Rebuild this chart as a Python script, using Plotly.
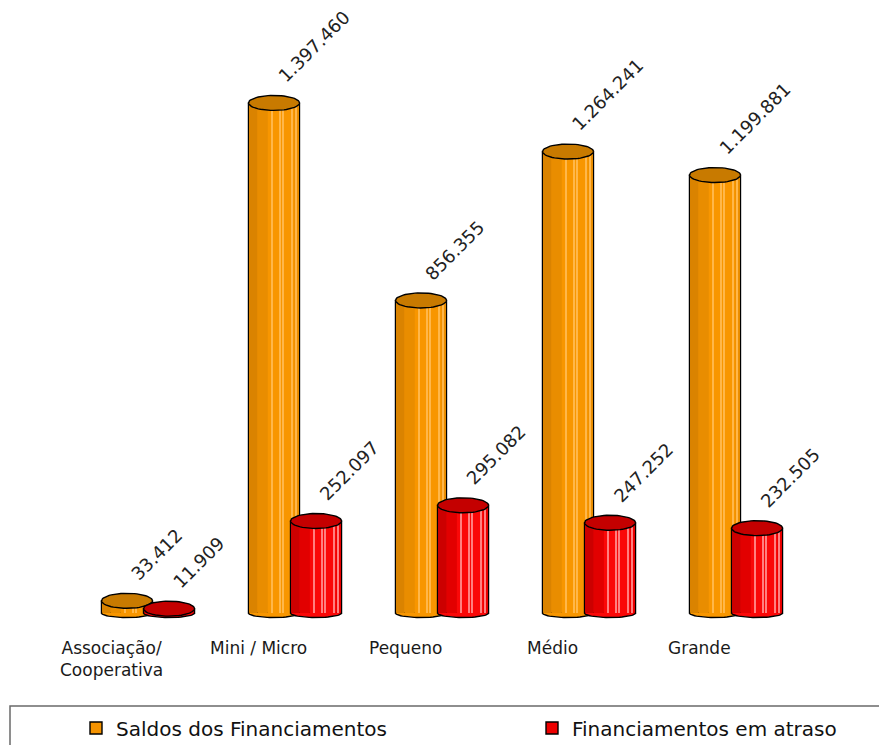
import numpy as np
import plotly.graph_objects as go

# ---------------- data ----------------
categories = ["Associação/<br>Cooperativa", "Mini / Micro", "Pequeno", "Médio", "Grande"]
saldos = [33412, 1397460, 856355, 1264241, 1199881]
atraso = [11909, 252097, 295082, 247252, 232505]
series_names = ["Saldos dos Financiamentos", "Financiamentos em atraso"]

# ---------------- layout constants (page has an 8px body margin) ----------------
OFF = 8
W, H = 887 - OFF, 745 - OFF
PX_PER_UNIT = 3.65e-4
TOP_PX, BASE_PX, BOTTOM_PX = 10 - OFF, 613 - OFF, 625 - OFF
y_range = [-(BOTTOM_PX - BASE_PX) / PX_PER_UNIT, (BASE_PX - TOP_PX) / PX_PER_UNIT]
CAT_PX0, CAT_STEP = 148 - OFF, 147
x_range = [-CAT_PX0 / CAT_STEP, (W - CAT_PX0) / CAT_STEP]
plot_h = BOTTOM_PX - TOP_PX

BAR_W = 0.347
SHIFT = 0.143
CAP_H = 7.5 / PX_PER_UNIT
BASE_H = 4.5 / PX_PER_UNIT
FONT = "DejaVu Sans"

styles = [
    dict(base="#F59300", cap="#C87A00",
         bands=[(0.0, 0.18, "#DA8300"), (0.18, 0.38, "#E98D00"), (0.38, 0.90, "#F89600"), (0.90, 1.0, "#EC8E00")],
         hl="#FFB74A", hl_pos=[0.46, 0.60, 0.66, 0.84, 0.93]),
    dict(base="#EE0000", cap="#C40000",
         bands=[(0.0, 0.18, "#CC0000"), (0.18, 0.38, "#E20000"), (0.38, 0.90, "#FA0808"), (0.90, 1.0, "#EC0000")],
         hl="#FF8080", hl_pos=[0.46, 0.60, 0.66, 0.84, 0.93]),
]

fig = go.Figure()
xs = np.arange(len(categories))
all_values = [saldos, atraso]
axes = [("x", "y"), ("x2", "y2")]
legend_ids = ["legend", "legend2"]

for s, (vals, name, st, (xa, ya)) in enumerate(zip(all_values, series_names, styles, axes)):
    sign = -1 if s == 0 else 1
    center_off = sign * SHIFT
    left_off = center_off - BAR_W / 2
    # main body (legend entry)
    fig.add_trace(go.Bar(x=xs, y=vals, name=name, width=BAR_W, offset=left_off,
                         marker=dict(color=st["base"], line=dict(color="black", width=1.4)),
                         xaxis=xa, yaxis=ya, hoverinfo="skip", showlegend=True,
                         legend=legend_ids[s]))
    # shading bands
    for f0, f1, col in st["bands"]:
        a = max(f0, 0.012)
        b = min(f1, 0.988)
        fig.add_trace(go.Bar(x=xs, y=vals, width=(b - a) * BAR_W, offset=left_off + a * BAR_W,
                             marker=dict(color=col, line=dict(width=0)),
                             xaxis=xa, yaxis=ya, hoverinfo="skip", showlegend=False))
    for p in st["hl_pos"]:
        fig.add_trace(go.Bar(x=xs, y=vals, width=0.007, offset=left_off + p * BAR_W,
                             marker=dict(color=st["hl"], line=dict(width=0)),
                             xaxis=xa, yaxis=ya, hoverinfo="skip", showlegend=False))
    # bottom arc and top cap
    t_low = np.linspace(np.pi, 2 * np.pi, 30)
    t_full = np.linspace(0, 2 * np.pi, 60)
    bx, by, tx, ty = [], [], [], []
    for i, v in enumerate(vals):
        c = i + center_off
        bx += list(c + BAR_W / 2 * np.cos(t_low)) + [None]
        by += list(BASE_H * np.sin(t_low)) + [None]
        tx += list(c + BAR_W / 2 * np.cos(t_full)) + [None]
        ty += list(v + CAP_H * np.sin(t_full)) + [None]
    fig.add_trace(go.Scatter(x=bx, y=by, mode="lines", fill="toself", fillcolor=st["bands"][2][2],
                             line=dict(color="black", width=1.4), xaxis=xa, yaxis=ya,
                             hoverinfo="skip", showlegend=False))
    fig.add_trace(go.Scatter(x=tx, y=ty, mode="lines", fill="toself", fillcolor=st["cap"],
                             line=dict(color="black", width=1.4), xaxis=xa, yaxis=ya,
                             hoverinfo="skip", showlegend=False))

# value labels
annotations = []
for s, vals in enumerate(all_values):
    sign = -1 if s == 0 else 1
    for i, v in enumerate(vals):
        annotations.append(dict(x=i + sign * SHIFT, y=v, xref="x", yref="y",
                                text=f"{v:,}".replace(",", "."), textangle=-45,
                                showarrow=False, xanchor="left", yanchor="bottom",
                                xshift=-3, yshift=14,
                                font=dict(family=FONT, size=18, color="#222222")))
# category labels
for i, c in enumerate(categories):
    annotations.append(dict(x=i - 0.245, y=0, xref="x", yref="y", text=c, showarrow=False,
                            xanchor="center", yanchor="top", yshift=-23,
                            font=dict(family=FONT, size=17, color="#1a1a1a")))

legend_y = (BOTTOM_PX - (728 - OFF)) / plot_h
legend_common = dict(orientation="h", xanchor="left", y=legend_y, yanchor="middle",
                     font=dict(family=FONT, size=20, color="#111111"),
                     bgcolor="rgba(0,0,0,0)", borderwidth=0)

axis_common = dict(visible=False, showgrid=False, zeroline=False, fixedrange=True)
fig.update_layout(
    width=W, height=H,
    margin=dict(l=0, r=0, t=TOP_PX, b=H - BOTTOM_PX, pad=0, autoexpand=False),
    paper_bgcolor="white", plot_bgcolor="white",
    barmode="overlay",
    xaxis=dict(range=x_range, **axis_common),
    yaxis=dict(range=y_range, **axis_common),
    xaxis2=dict(range=x_range, overlaying="x", anchor="y2", **axis_common),
    yaxis2=dict(range=y_range, overlaying="y", anchor="x2", **axis_common),
    showlegend=True,
    legend=dict(x=(76 - OFF) / W, **legend_common),
    legend2=dict(x=(532 - OFF) / W, **legend_common),
    annotations=annotations,
    shapes=[dict(type="rect", xref="paper", yref="paper",
                 x0=(10 - OFF) / W, x1=1.05,
                 y0=(BOTTOM_PX - (706 - OFF)) / plot_h, y1=(BOTTOM_PX - 790) / plot_h,
                 line=dict(color="#6a6a6a", width=1.5), fillcolor="rgba(0,0,0,0)", layer="below")],
)

fig.write_html("out.html")
